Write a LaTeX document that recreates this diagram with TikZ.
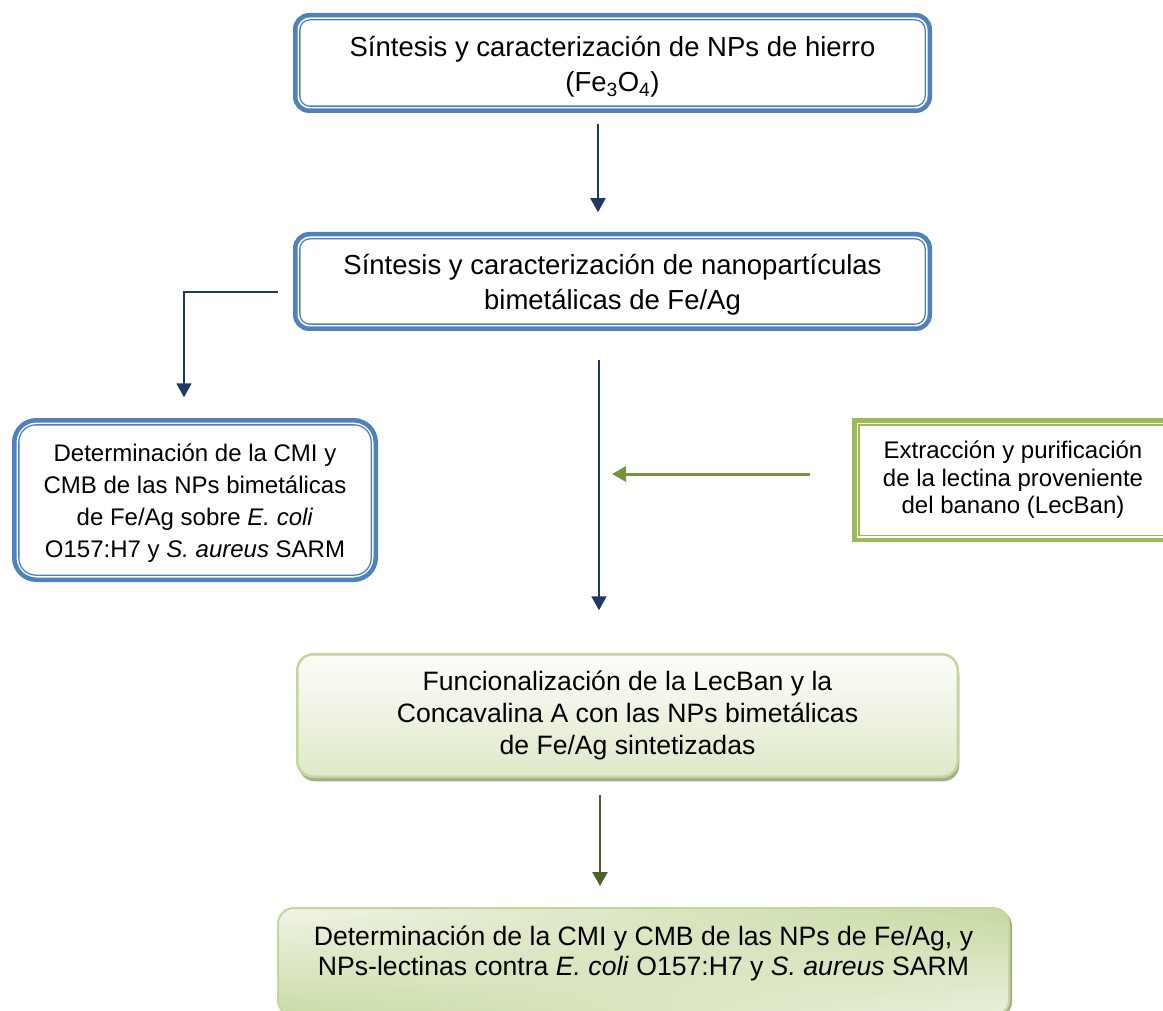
\documentclass[tikz,border=0pt]{standalone}
\usepackage{fontspec}
\setmainfont{Liberation Sans}
\usetikzlibrary{arrows.meta,calc,shadows,shadings}
\definecolor{bboxc}{HTML}{4F81BD}
\definecolor{navyc}{HTML}{1F3864}
\definecolor{gboxc}{HTML}{9BBB59}
\definecolor{garrc}{HTML}{77933C}
\definecolor{olivc}{HTML}{4F6228}
\definecolor{lgborder}{HTML}{C3D69B}
\definecolor{shadowc}{HTML}{A3AE8D}
\tikzset{
  bluebox/.style={draw=bboxc, line width=4.5pt, rounded corners=14pt, fill=white,
    outer sep=0pt, inner sep=0pt, align=center},
  blueinner/.style={draw=bboxc, line width=1.3pt, rounded corners=10pt},
  greenbox/.style={draw=gboxc, line width=4.5pt, fill=white,
    outer sep=0pt, inner sep=0pt, align=center},
  greeninner/.style={draw=gboxc, line width=1.3pt},
  softbox/.style={draw=lgborder, line width=2.5pt, rounded corners=16pt,
    outer sep=0pt, inner sep=0pt, align=center},
  boxtext/.style={align=center, inner sep=0pt},
  navyarrow/.style={draw=navyc, line width=2pt, -{Triangle[width=15pt,length=14pt]}},
  greenarrow/.style={draw=garrc, line width=3pt, -{Triangle[width=15pt,length=14pt]}},
  olivarrow/.style={draw=olivc, line width=2pt, -{Triangle[width=15pt,length=14pt]}},
  txtA/.style={font=\fontsize{27.5}{35}\selectfont},
  txtB/.style={font=\fontsize{24}{32}\selectfont},
  txtC/.style={font=\fontsize{24}{27.5}\selectfont},
  txtD/.style={font=\fontsize{26.6}{32}\selectfont},
  txtE/.style={font=\fontsize{26.6}{30}\selectfont},
}
\begin{document}
\begin{tikzpicture}[x=1pt,y=-1pt]
\useasboundingbox (0,0) rectangle (1163,1011);
\fill[white] (0,0) rectangle (1163,1011);
\clip (0,0) rectangle (1163,1011);

% Box 1
\node[bluebox, minimum width=634.5pt, minimum height=95.5pt] (b1) at (612.5,63) {};
\draw[blueinner] ($(b1.north west)+(4.6,4.6)$) rectangle ($(b1.south east)-(4.6,4.6)$);
\node[boxtext, txtA] (t1) at (612.5,67)
  {Síntesis y caracterización de NPs de hierro\\(Fe\textsubscript{3}O\textsubscript{4})};

% Box 2
\node[bluebox, minimum width=634.5pt, minimum height=94.5pt] (b2) at (612.5,281.5) {};
\draw[blueinner] ($(b2.north west)+(4.6,4.6)$) rectangle ($(b2.south east)-(4.6,4.6)$);
\node[boxtext, txtA] (t2) at (612.5,285)
  {Síntesis y caracterización de nanopartículas\\bimetálicas de Fe/Ag};

% Box 3
\node[bluebox, rounded corners=22pt, minimum width=361.5pt, minimum height=159.5pt] (b3) at (195,500) {};
\draw[blueinner, rounded corners=17pt] ($(b3.north west)+(4.6,4.6)$) rectangle ($(b3.south east)-(4.6,4.6)$);
\node[boxtext, txtB] (t3) at (195,503.5)
  {Determinación de la CMI y\\CMB de las NPs bimetálicas\\de Fe/Ag sobre \textit{E. coli}\\O157:H7 y \textit{S. aureus} SARM};

% Box 4
\node[greenbox, txtC, minimum width=317.5pt, minimum height=119.5pt] (b4) at (1013,480)
  {Extracción y purificación\\de la lectina proveniente\\del banano (LecBan)};
\draw[greeninner] ($(b4.north west)+(4.6,4.6)$) rectangle ($(b4.south east)-(4.6,4.6)$);

% Box 5
\node[softbox, txtD, top color=white!60!lgborder!10, bottom color=lgborder!55!white,
  drop shadow={shadow xshift=1.5pt, shadow yshift=-4.5pt, fill=shadowc, opacity=1},
  minimum width=660.5pt, minimum height=122.5pt] (b5) at (627.5,715.5)
  {Funcionalización de la LecBan y la\\Concavalina A con las NPs bimetálicas\\de Fe/Ag sintetizadas};

% Box 6
\node[softbox, draw=lgborder, line width=2pt,
  upper left=lgborder!25!white, upper right=lgborder!95!white,
  lower left=lgborder!90!white, lower right=lgborder!35!white,
  drop shadow={shadow xshift=3pt, shadow yshift=-2pt, fill=shadowc, opacity=1},
  minimum width=731pt, minimum height=108pt] (b6) at (643.5,962) {};
\node[boxtext, txtE] (t6) at (643.5,953)
  {Determinación de la CMI y CMB de las NPs de Fe/Ag, y\\NPs-lectinas contra \textit{E. coli} O157:H7 y \textit{S. aureus} SARM};

% Connectors
\draw[navyarrow, shorten <=13pt, shorten >=22pt]
  ([xshift=-14.5pt]b1.south) -- ([xshift=-14.5pt]b2.north);
\draw[navyarrow, shorten <=17pt, shorten >=23pt]
  ([yshift=-10.5pt]b2.west) -| ([xshift=-11pt]b3.north);
\draw[navyarrow, shorten <=31pt, shorten >=44pt]
  ([xshift=-13.5pt]b2.south) -- ([xshift=-13.5pt]b2.south |- b5.north);
\coordinate (join) at (612,474);
\draw[greenarrow, shorten <=44pt]
  (join -| b4.west) -- (join);
\draw[olivarrow, shorten <=18pt, shorten >=22pt]
  ([xshift=-27.5pt]b5.south) -- ([xshift=-27.5pt]b5.south |- b6.north);
\end{tikzpicture}
\end{document}
